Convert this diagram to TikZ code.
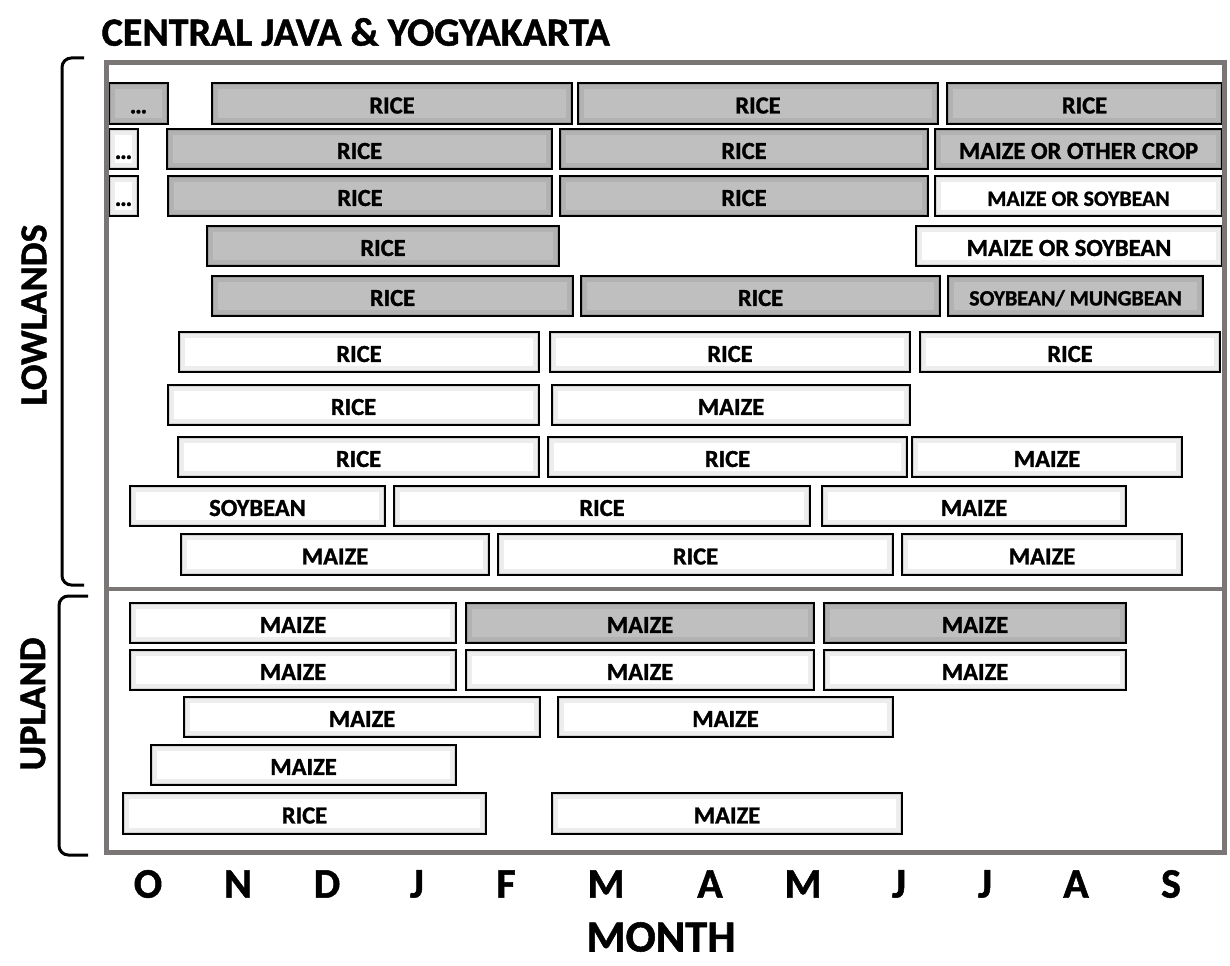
\documentclass[tikz,border=0pt]{standalone}
\usepackage{fontspec}
\setmainfont{Carlito}[BoldFeatures={FakeBold=1.2}]
\definecolor{framegray}{RGB}{122,118,118}
\newcommand\cropsmall{\fontsize{16.4}{18}\selectfont}

\begin{document}
\begin{tikzpicture}[x=0.75pt,y=-0.75pt,
  wbox/.style={draw=black,line width=1.5pt,fill=white,
    path picture={\draw[gray!14,line width=9pt] (path picture bounding box.south west) rectangle (path picture bounding box.north east);
                  \draw[gray!35,line width=3pt] (path picture bounding box.south west) rectangle (path picture bounding box.north east);}},
  gbox/.style={draw=black,line width=1.5pt,fill=gray!50,
    path picture={\draw[gray!60,line width=9pt] (path picture bounding box.south west) rectangle (path picture bounding box.north east);
                  \draw[gray!78,line width=3pt] (path picture bounding box.south west) rectangle (path picture bounding box.north east);}},
  lbl/.style={font=\fontsize{18.4}{20}\selectfont\bfseries,inner sep=0pt,yshift=-1.5pt,execute at begin node=\vphantom{R}},
  bracket/.style={line width=2.25pt,rounded corners=7pt},
  month/.style={font=\fontsize{31.5}{34}\selectfont\bfseries}]

  \useasboundingbox (0,0) rectangle (1230,966);

  \node[font=\fontsize{30}{32}\selectfont\bfseries,anchor=west] (title) at (97,32) {CENTRAL JAVA \& YOGYAKARTA};

  % crop calendar bars
  \foreach \ya/\yb/\xa/\xb/\kind/\txt [count=\i] in {
      83/124/109/168/gbox/{\ldots}, 83/124/212/572/gbox/RICE, 83/124/578/938/gbox/RICE, 83/124/947/1222/gbox/RICE,
      129/169/109/138/wbox/{\ldots}, 129/169/167/552/gbox/RICE, 129/169/560/928/gbox/RICE, 129/169/935/1222/gbox/MAIZE OR OTHER CROP,
      176/216/109/138/wbox/{\ldots}, 176/216/168/552/gbox/RICE, 176/216/560/928/gbox/RICE, 176/216/935/1222/wbox/{\cropsmall MAIZE OR SOYBEAN},
      226/266/207/559/gbox/RICE, 226/266/916/1222/wbox/MAIZE OR SOYBEAN,
      276/316/212/573/gbox/RICE, 276/316/581/940/gbox/RICE, 276/316/948/1203/gbox/{\cropsmall SOYBEAN/ MUNGBEAN},
      332/372/179/539/wbox/RICE, 332/372/550/910/wbox/RICE, 332/372/920/1220/wbox/RICE,
      385/425/168/539/wbox/RICE, 385/425/552/910/wbox/MAIZE,
      437/477/178/539/wbox/RICE, 437/477/548/907/wbox/RICE, 437/477/912/1182/wbox/MAIZE,
      486/526/130/385/wbox/SOYBEAN, 486/526/394/810/wbox/RICE, 486/526/822/1126/wbox/MAIZE,
      534/575/181/489/wbox/MAIZE, 534/575/498/893/wbox/RICE, 534/575/902/1182/wbox/MAIZE,
      603/643/130/456/wbox/MAIZE, 603/643/466/814/gbox/MAIZE, 603/643/824/1126/gbox/MAIZE,
      650/690/130/456/wbox/MAIZE, 650/690/466/814/wbox/MAIZE, 650/690/824/1126/wbox/MAIZE,
      697/737/184/540/wbox/MAIZE, 697/737/558/893/wbox/MAIZE,
      745/785/151/456/wbox/MAIZE,
      793/834/123/486/wbox/RICE, 793/834/552/902/wbox/MAIZE}
    \draw[\kind] (\xa,\ya) rectangle node[lbl] (c\i) {\txt} (\xb,\yb);

  \draw[framegray,line width=3pt] (108,589) -- (1224,589);
  \draw[framegray,line width=3.75pt] (106,62.5) rectangle (1224.5,852);

  \draw[bracket] (84,58) -- (62,58) -- (62,585) -- (84,585);
  \draw[bracket] (88,596) -- (59,596) -- (59,855) -- (88,855);
  \node[font=\fontsize{28.5}{30}\selectfont\bfseries,rotate=90] (low) at (34,315) {LOWLANDS};
  \node[font=\fontsize{28.5}{30}\selectfont\bfseries,rotate=90] (up) at (33,704) {UPLAND};

  \foreach \x/\m [count=\i] in {148/O,238/N,327/D,417/J,506/F,606/M,710/A,803/M,899/J,985/J,1076/A,1171/S}
    \node[month] (m\i) at (\x,884) {\m};
  \node[font=\fontsize{33.5}{36}\selectfont\bfseries] (month) at (661,937) {MONTH};

\end{tikzpicture}
\end{document}
